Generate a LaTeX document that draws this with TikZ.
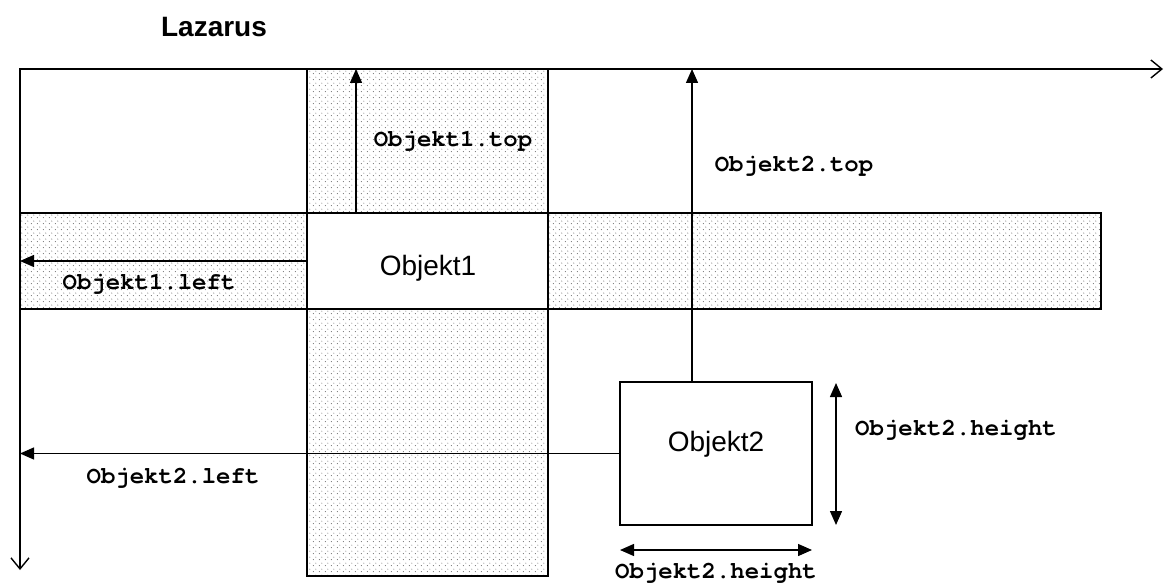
\documentclass[tikz,border=0pt]{standalone}
\usepackage{fontspec}
\setmainfont{Liberation Sans}
\newfontfamily\courb{texgyrecursor-bold.otf}
\usetikzlibrary{arrows.meta,patterns}
\pgfdeclarepatternformonly{mydots}{\pgfpointorigin}{\pgfpoint{6pt}{6pt}}{\pgfpoint{6pt}{6pt}}{%
  \pgfpathcircle{\pgfpoint{1.5pt}{1.5pt}}{0.55pt}%
  \pgfpathcircle{\pgfpoint{4.5pt}{4.5pt}}{0.55pt}%
  \pgfusepath{fill}}
\tikzset{
  band/.style={pattern=mydots, pattern color=black!85, draw=black, line width=1.3pt},
  objbox/.style={draw=black, fill=white, line width=1.3pt, inner sep=0pt},
  axisline/.style={line width=1.4pt, {Straight Barb[length=11pt,width=18pt,line width=1.4pt]}-{Straight Barb[length=11pt,width=18pt,line width=1.4pt]}},
  arr/.style={line width=1.4pt, -{Triangle[length=14pt,width=12pt]}},
  darr/.style={line width=1.4pt, {Triangle[length=14pt,width=12pt]}-{Triangle[length=14pt,width=12pt]}},
  lbl/.style={font=\courb\fontsize{24}{24}\selectfont, inner sep=0pt},
  big/.style={font=\fontsize{28}{30}\selectfont, inner sep=0pt},
  ttl/.style={font=\bfseries\fontsize{28}{30}\selectfont, inner sep=0pt}
}
\begin{document}
\begin{tikzpicture}[x=1pt,y=-1pt]
\useasboundingbox (0,0) rectangle (1165,585);
% bands
\path[band] (307,69) rectangle (548,576);
\path[band] (20,213) rectangle (1101,309);
% object boxes
\node[objbox, minimum width=241pt, minimum height=96pt] (o1) at (427.5,261) {};
\node[big] (o1t) at (428,268) {Objekt1};
\node[objbox, minimum width=192pt, minimum height=143pt] (o2) at (716,453.5) {};
\node[big] (o2t) at (716,444) {Objekt2};
% axes
\coordinate (O) at (20,69);
\coordinate (xend) at (1163,69);
\coordinate (yend) at (20,570);
\draw[axisline] (xend) -- (O) -- (yend);
% title
\node[ttl] (title) at (214,27) {Lazarus};
% Objekt1 measures
\coordinate (t1) at (356,69);
\draw[arr] (t1 |- o1.north) -- (t1);
\node[lbl] (l1top) at (453,141) {Objekt1.top};
\draw[arr] (o1.west) -- (o1.west -| O);
\node[lbl] (l1left) at (149,284) {Objekt1.left};
% Objekt2 measures
\coordinate (t2) at (692,69);
\draw[arr] (t2 |- o2.north) -- (t2);
\node[lbl] (l2top) at (794,166) {Objekt2.top};
\draw[arr] (o2.west) -- (o2.west -| O);
\node[lbl] (l2left) at (173,478) {Objekt2.left};
\coordinate (h1) at (836,383);
\coordinate (h2) at (836,525);
\draw[darr] (h1) -- (h2);
\node[lbl] (l2h) at (956,430) {Objekt2.height};
\coordinate (w1) at (620,550);
\coordinate (w2) at (812,550);
\draw[darr] (w1) -- (w2);
\node[lbl] (l2w) at (716,573) {Objekt2.height};
\end{tikzpicture}
\end{document}
